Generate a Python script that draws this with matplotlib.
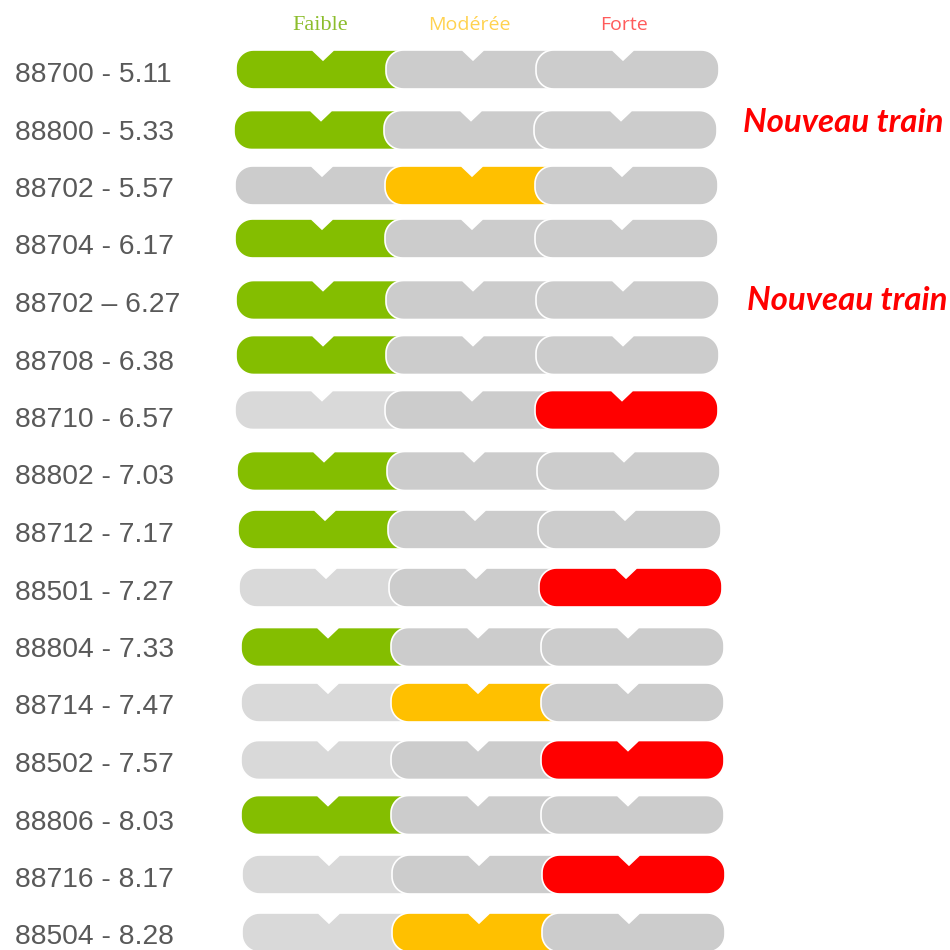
import numpy as np
import matplotlib
matplotlib.use("Agg")
import matplotlib.pyplot as plt
from matplotlib.path import Path
from matplotlib.patches import PathPatch
from matplotlib import font_manager

# ---------------- data ----------------
trains = ["88700 - 5.11", "88800 - 5.33", "88702 - 5.57", "88704 - 6.17",
          "88702 \u2013 6.27", "88708 - 6.38", "88710 - 6.57", "88802 - 7.03",
          "88712 - 7.17", "88501 - 7.27", "88804 - 7.33", "88714 - 7.47",
          "88502 - 7.57", "88806 - 8.03", "88716 - 8.17", "88504 - 8.28"]
# 0 = Faible, 1 = Modérée, 2 = Forte
levels = [0, 0, 1, 0, 0, 0, 2, 0, 0, 2, 0, 1, 2, 0, 2, 1]
categories = ["Faible", "Modérée", "Forte"]
notes = {1: "Nouveau train", 4: "Nouveau train"}

# ---------------- layout / style ----------------
W_PX, H_PX = 950, 950
row_y = [69.5, 130, 185.5, 238.5, 300, 355, 410, 471, 529.5, 587.5,
         647, 702.5, 760, 815, 874.5, 932.5]
row_left = [236, 234, 235, 235, 236, 236, 235, 237, 238, 239,
            241, 241, 241, 241, 242, 242]
light_first = [False, False, False, False, False, False, True, False, False, True,
               False, True, True, False, True, True]
note_pos = {1: (743, 131.5), 4: (747, 310)}
SEG_W, SEG_STEP, SEG_H, RAD = 183, 150, 39, 17.5
NOTCH_OFF, NOTCH_HW, NOTCH_D = 87, 10.5, 10

active_colors = ["#84be00", "#ffc000", "#ff0000"]
gray = "#cccccc"
light_gray = "#d9d9d9"
header_colors = ["#8cbd2c", "#ffd24f", "#ff5b5b"]
header_x = [320, 469, 623.5]
label_color = "#595959"

avail = {f.name for f in font_manager.fontManager.ttflist}
if "Liberation Sans Narrow" in avail:
    label_font, label_size = "Liberation Sans Narrow", 23
else:
    label_font, label_size = "Liberation Sans", 20.3


def pill_path(x0, yc, w, h, r, nx):
    top, bot = yc - h / 2, yc + h / 2
    pts = [(x0 + r, top), (nx - NOTCH_HW, top), (nx, top + NOTCH_D),
           (nx + NOTCH_HW, top), (x0 + w - r, top)]

    def arc(cx, cy, a0, a1):
        a = np.radians(np.linspace(a0, a1, 14))
        return list(zip(cx + r * np.cos(a), cy + r * np.sin(a)))

    pts += arc(x0 + w - r, top + r, -90, 0)
    pts += arc(x0 + w - r, bot - r, 0, 90)
    pts += arc(x0 + r, bot - r, 90, 180)
    pts += arc(x0 + r, top + r, 180, 270)
    pts.append(pts[0])
    codes = [Path.MOVETO] + [Path.LINETO] * (len(pts) - 2) + [Path.CLOSEPOLY]
    return Path(pts, codes)


fig = plt.figure(figsize=(9.5, 9.5), dpi=100)
ax = fig.add_axes([0, 0, 1, 1])
ax.set_xlim(0, W_PX)
ax.set_ylim(H_PX, 0)
ax.axis("off")

# headers
ax.text(header_x[0], 30.5, categories[0], color=header_colors[0],
        family="Liberation Serif", fontsize=16, ha="center", va="baseline")
for i in (1, 2):
    ax.text(header_x[i], 30.5, categories[i], color=header_colors[i],
            family="Open Sans", fontsize=14, ha="center", va="baseline")

for r, (name, lev) in enumerate(zip(trains, levels)):
    ax.text(15, 82 + 57.5 * r, name, color=label_color, family=label_font,
            fontsize=label_size, ha="left", va="baseline")
    for s in range(3):
        x0 = row_left[r] + s * SEG_STEP
        if s == lev:
            fc = active_colors[s]
        elif s == 0 and light_first[r]:
            fc = light_gray
        else:
            fc = gray
        p = pill_path(x0, row_y[r], SEG_W, SEG_H, RAD, x0 + NOTCH_OFF)
        ax.add_patch(PathPatch(p, facecolor=fc, edgecolor="white", lw=1.2,
                               zorder=2 + s))
    if r in notes:
        nx, ny = note_pos[r]
        ax.text(nx, ny, notes[r], color="#ff0000", family="Lato",
                fontsize=23.8, fontweight="bold", fontstyle="italic",
                ha="left", va="baseline")

fig.savefig("out.png", dpi=100)
